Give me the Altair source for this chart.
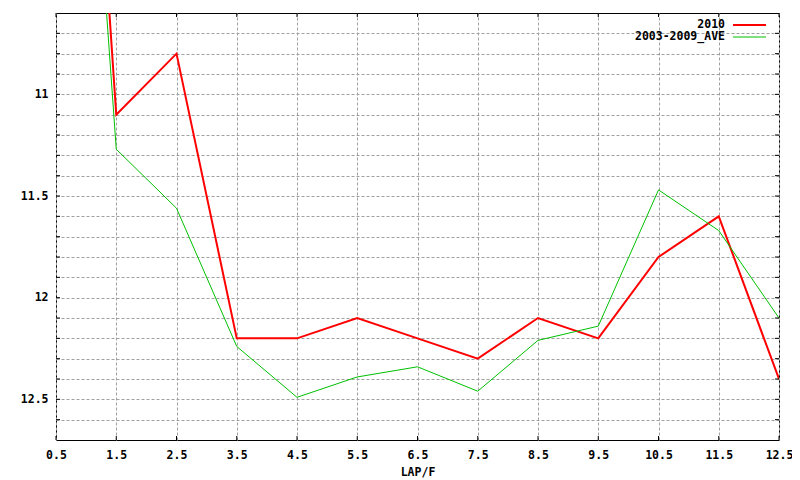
import altair as alt
import pandas as pd

laps = [0.5, 1.5, 2.5, 3.5, 4.5, 5.5, 6.5, 7.5, 8.5, 9.5, 10.5, 11.5, 12.5]
v2010 = [6.7, 11.1, 10.8, 12.2, 12.2, 12.1, 12.2, 12.3, 12.1, 12.2, 11.8, 11.6, 12.4]
vave = [7.1, 11.27, 11.56, 12.24, 12.49, 12.39, 12.34, 12.46, 12.21, 12.14, 11.47, 11.67, 12.10]
series_names = ["2010", "2003-2009_AVE"]
series_colors = ["#ff0000", "#00c000"]
series_widths = [2, 1]
y_ticks = [10.7, 10.8, 10.9, 11.0, 11.1, 11.2, 11.3, 11.4, 11.5, 11.6, 11.7, 11.8,
           11.9, 12.0, 12.1, 12.2, 12.3, 12.4, 12.5, 12.6]
x_ticks = laps

W, H = 723, 427
FONT = "DejaVu Sans Mono"
FS = 11.5

xscale = alt.Scale(domain=[0.5, 12.5], nice=False, zero=False)
yscale = alt.Scale(domain=[10.6, 12.7], nice=False, zero=False, reverse=True)

xaxis = alt.Axis(values=x_ticks, format=".1f", grid=True, gridDash=[3, 2], gridColor="#a0a0a0",
                 ticks=False, tickSize=0, domain=False, labelFont=FONT, labelFontSize=FS,
                 labelFontWeight="bold", labelColor="black", labelPadding=9, labelOverlap=False,
                 labelFlush=False,
                 title="LAP/F", titleFont=FONT, titleFontSize=FS, titleFontWeight="bold",
                 titleColor="black", titlePadding=6)
yaxis = alt.Axis(values=y_ticks, grid=True, gridDash=[3, 2], gridColor="#a0a0a0",
                 ticks=False, tickSize=0, domain=False, labelFont=FONT, labelFontSize=FS,
                 labelFontWeight="bold", labelColor="black", labelPadding=8, title=None,
                 labelOverlap=False, labelFlush=False,
                 labelExpr="abs(datum.value*2 - round(datum.value*2)) < 0.001 ? format(datum.value, '.1~f') : ''")

df_red = pd.DataFrame({"lap": laps, "value": v2010})
df_green = pd.DataFrame({"lap": laps, "value": vave})
df_yt = pd.DataFrame({"value": y_ticks})
df_xt = pd.DataFrame({"lap": x_ticks})


def X(field="lap"):
    return alt.X(f"{field}:Q", scale=xscale, axis=xaxis)


def Y(field="value"):
    return alt.Y(f"{field}:Q", scale=yscale, axis=yaxis)


red = alt.Chart(df_red).mark_line(clip=True, color=series_colors[0], strokeWidth=series_widths[0]).encode(
    x=X(), y=Y())
green = alt.Chart(df_green).mark_line(clip=True, color=series_colors[1], strokeWidth=series_widths[1]).encode(
    x=X(), y=Y())

tick_col = "black"
lt = alt.Chart(df_yt).mark_rule(color=tick_col, strokeWidth=1).encode(
    y=Y(), x=alt.value(0), x2=alt.value(4))
rt = alt.Chart(df_yt).mark_rule(color=tick_col, strokeWidth=1).encode(
    y=Y(), x=alt.value(W - 4), x2=alt.value(W))
tt = alt.Chart(df_xt).mark_rule(color=tick_col, strokeWidth=1).encode(
    x=X(), y=alt.value(0), y2=alt.value(4))
bt = alt.Chart(df_xt).mark_rule(color=tick_col, strokeWidth=1).encode(
    x=X(), y=alt.value(H - 4), y2=alt.value(H))

legend_layers = []
for i, (name, col, sw) in enumerate(zip(series_names, series_colors, series_widths)):
    yy = 12 + 12 * i
    legend_layers.append(
        alt.Chart(pd.DataFrame({"name": [name]})).mark_text(
            align="right", baseline="middle", font=FONT, fontSize=FS, fontWeight="bold", color="black"
        ).encode(text="name:N", x=alt.value(669), y=alt.value(yy))
    )
    legend_layers.append(
        alt.Chart(pd.DataFrame({"name": [name]})).mark_rule(color=col, strokeWidth=sw).encode(
            x=alt.value(677), x2=alt.value(710), y=alt.value(yy))
    )

chart = alt.layer(red, green, lt, rt, tt, bt, *legend_layers).properties(
    width=W, height=H,
    autosize=alt.AutoSizeParams(type="none"),
    padding={"left": 48, "top": 5, "right": 13, "bottom": 40},
    background="white",
).configure_view(stroke="black", strokeWidth=1).configure_axis(labelOverlap=False, labelFlush=False)

chart.save("out.html", embed_options={"renderer": "svg", "actions": False})
